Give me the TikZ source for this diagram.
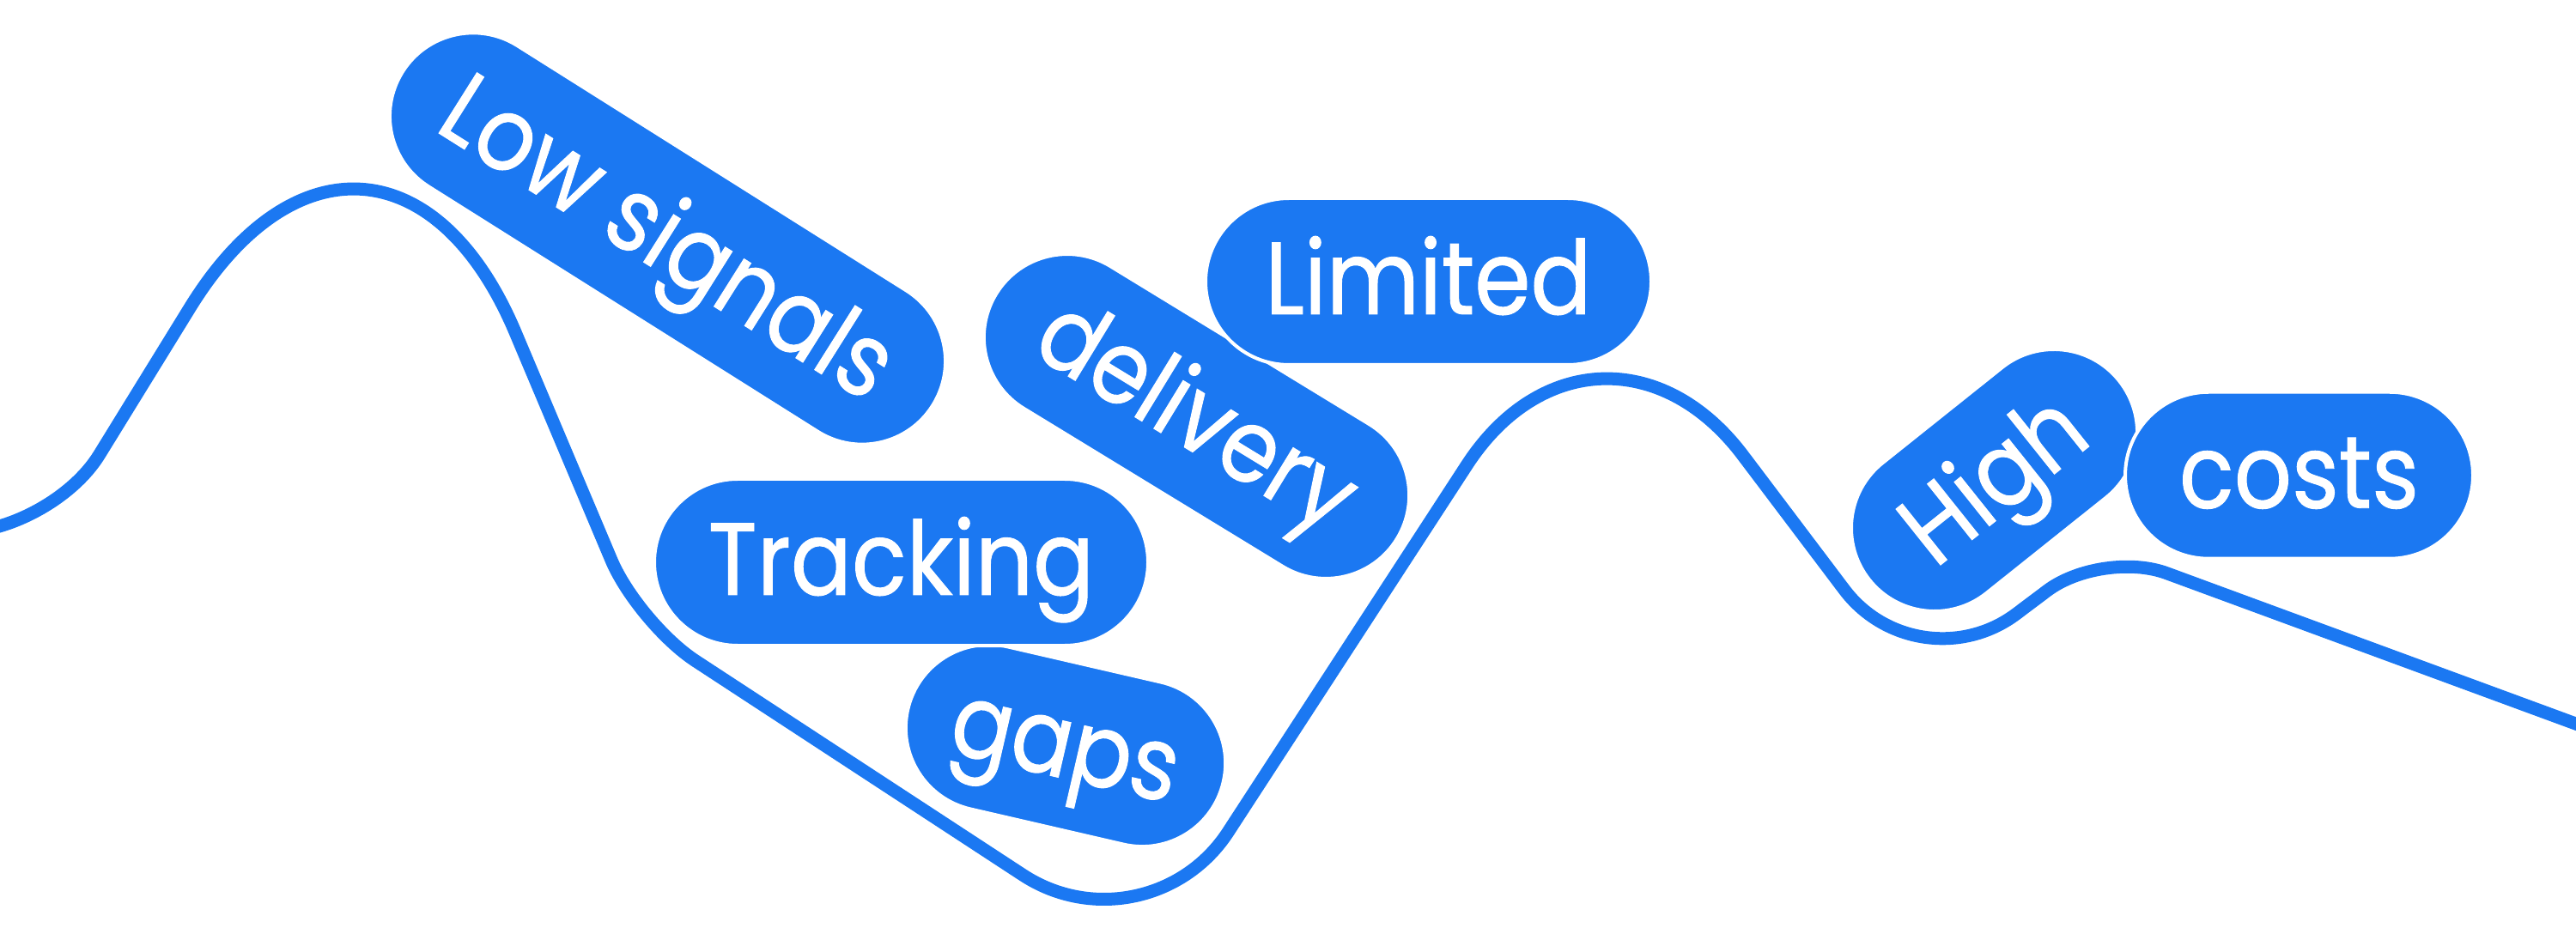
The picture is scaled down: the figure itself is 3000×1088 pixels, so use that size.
\documentclass[tikz,border=0pt]{standalone}
\usepackage{fontspec}
\setmainfont{Poppins}[FakeStretch=0.88, FakeBold=0.8]
\definecolor{pillblue}{HTML}{1B78F2}

\begin{document}
\begin{tikzpicture}[x=0.1mm,y=-0.1mm,
    pill/.style={rectangle, rounded corners=9.7mm, fill=pillblue, draw=white,
      line width=0.4mm, minimum height=19.4mm, inner sep=0pt, text=white,
      font=\fontsize{34}{34}\selectfont, text height=8.4mm, text depth=0.8mm},
    wave/.style={pillblue, line width=1.5mm}]
    \useasboundingbox (0,0) rectangle (3000,1088);

    % Wavy line
    \draw[wave] (-400,620) [rounded corners=10.6mm] -- (60,620)
      [rounded corners=41.5mm] -- (439,5)
      [rounded corners=8mm] -- (743,726)
      [rounded corners=17.3mm] -- (1336,1114)
      [rounded corners=28mm] -- (1861,307)
      [rounded corners=14.3mm] -- (2234,801)
      [rounded corners=8mm] -- (2448,640)
      -- (3100,880);

    % Pills
    \node[pill, minimum width=72.95mm, rotate=-32.2] (low) at (777.5,278) {Low signals};
    \node[pill, minimum width=54.7mm, rotate=-31.4] (delivery) at (1393.5,485) {delivery};
    \node[pill, minimum width=51.9mm] (limited) at (1663.5,328) {Limited};
    \node[pill, minimum width=37.7mm, rotate=-13] (gaps) at (1241,868.5) {gaps};
    \node[pill, minimum width=57.5mm] (tracking) at (1049.5,655) {Tracking};
    \node[pill, minimum width=37.2mm, rotate=38.6] (high) at (2322.5,559.5) {High};
    \node[pill, minimum width=40.5mm] (costs) at (2677.5,553.75) {costs};
\end{tikzpicture}
\end{document}
